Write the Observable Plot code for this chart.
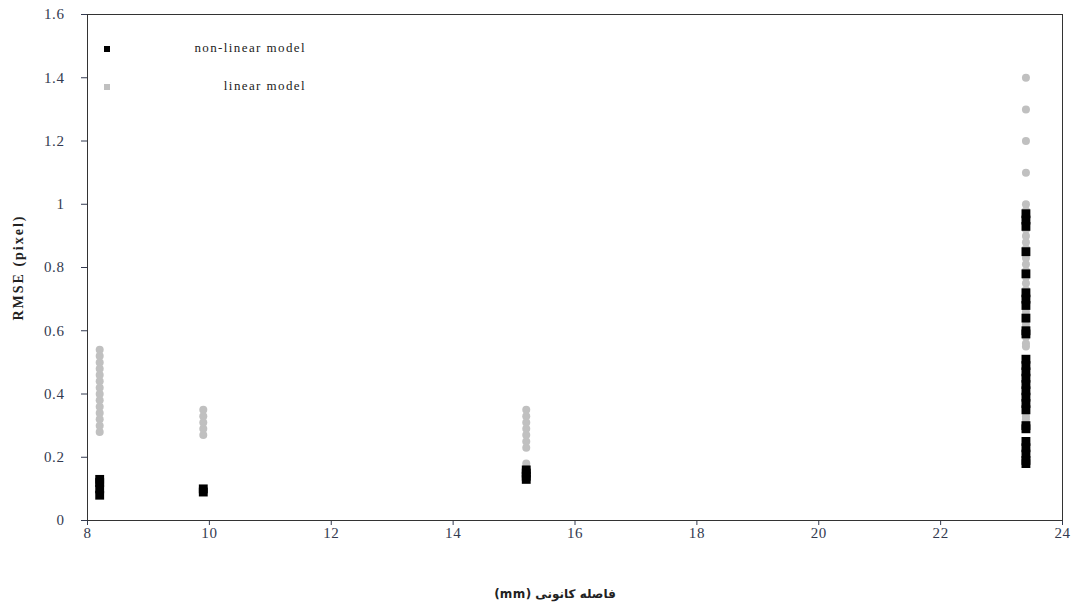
<!DOCTYPE html>
<html><head><meta charset="utf-8">
<script src="https://cdn.jsdelivr.net/npm/d3@7"></script>
<script src="https://cdn.jsdelivr.net/npm/@observablehq/plot@0.6"></script>
<style>
body{margin:0;background:#fff;}
#wrap{position:relative;width:1074px;height:607px;}
.lg{position:absolute;font-family:"Liberation Serif",serif;font-size:13px;letter-spacing:1.4px;color:#222;}
.mk{position:absolute;width:6px;height:6px;}
g[aria-label="x-axis label"] text, g[aria-label="y-axis label"] text{font-weight:bold;fill:#222;}
g[aria-label="y-axis label"] text{letter-spacing:2px;font-size:14px;}
g[aria-label="x-axis label"] text{direction:rtl;unicode-bidi:embed;font-family:"DejaVu Sans",sans-serif;font-size:12px;letter-spacing:0.5px;}
g[aria-label="x-axis tick label"] text, g[aria-label="y-axis tick label"] text{letter-spacing:0.6px;}
</style></head><body><div id="wrap"></div>
<script>
// focal length (mm) columns
const focalLengths = [8.2, 9.9, 15.2, 23.4];
// linear model RMSE values per focal length
const linearAt8_2 = [0.28,0.30,0.32,0.34,0.36,0.38,0.40,0.42,0.44,0.46,0.48,0.50,0.52,0.54];
const linearAt9_9 = [0.27,0.29,0.31,0.33,0.35];
const linearAt15_2 = [0.18,0.23,0.25,0.27,0.29,0.31,0.33,0.35];
const linearAt23_4 = [1.40,1.30,1.20,1.10,1.00,0.98,0.97,0.95,0.92,0.90,0.88,0.86,0.83,0.81,0.79,0.77,0.75,0.73,0.70,0.66,0.64,0.62,0.58,0.56,0.55,0.45,0.40,0.33,0.32,0.25];
// non-linear model RMSE values per focal length
const nonLinearAt8_2 = [0.08,0.10,0.12,0.13];
const nonLinearAt9_9 = [0.09,0.10];
const nonLinearAt15_2 = [0.13,0.14,0.15,0.16];
const nonLinearAt23_4 = [0.97,0.95,0.93,0.85,0.78,0.72,0.70,0.68,0.64,0.60,0.59,0.51,0.49,0.47,0.45,0.43,0.41,0.39,0.37,0.35,0.30,0.29,0.25,0.23,0.21,0.19,0.18];
const seriesNames = ["non-linear model", "linear model"];
const xTicks = [8,10,12,14,16,18,20,22,24];
const yTicks = [0,0.2,0.4,0.6,0.8,1,1.2,1.4,1.6];

const linearSets = [linearAt8_2, linearAt9_9, linearAt15_2, linearAt23_4];
const nonLinearSets = [nonLinearAt8_2, nonLinearAt9_9, nonLinearAt15_2, nonLinearAt23_4];
const linear = linearSets.flatMap((vals, i) => vals.map(v => ({x: focalLengths[i], y: v})));
const nonLinear = nonLinearSets.flatMap((vals, i) => vals.map(v => ({x: focalLengths[i], y: v})));

const chart = Plot.plot({
  width: 1074, height: 607,
  marginLeft: 87, marginRight: 12, marginTop: 14, marginBottom: 87,
  style: {fontFamily: '"Liberation Serif", serif', fontSize: "15px", color: "#333a50", background: "#fff"},
  x: {domain: [8, 24], ticks: xTicks, tickFormat: d => String(d), label: "فاصله کانونی (mm)", labelAnchor: "center", labelOffset: 77, labelArrow: "none", tickSize: 5, tickPadding: 2},
  y: {domain: [0, 1.6], ticks: yTicks, tickFormat: d => String(d), label: "RMSE (pixel)", labelAnchor: "center", labelOffset: 74, labelArrow: "none", tickSize: 6, tickPadding: 17},
  marks: [
    Plot.frame({stroke: "#333"}),
    Plot.dot(linear, {x: "x", y: "y", r: 4, fill: "#c0c0c0", stroke: "none"}),
    Plot.dot(nonLinear, {x: "x", y: "y", r: 5, symbol: "square", fill: "#000", stroke: "none"})
  ]
});
const wrap = document.getElementById("wrap");
wrap.appendChild(chart);
d3.select(chart).select('g[aria-label="x-axis label"] text').attr("dx", -20);

const legendColors = ["#000", "#c0c0c0"];
const legendTops = [46, 84];
seriesNames.forEach((name, i) => {
  const m = document.createElement("div");
  m.className = "mk";
  m.style.left = "104px"; m.style.top = legendTops[i] + "px"; m.style.background = legendColors[i];
  wrap.appendChild(m);
  const t = document.createElement("div");
  t.className = "lg";
  t.style.left = "120px"; t.style.width = "186px"; t.style.textAlign = "right";
  t.style.top = (legendTops[i] - 6) + "px";
  t.textContent = name;
  wrap.appendChild(t);
});
</script></body></html>
